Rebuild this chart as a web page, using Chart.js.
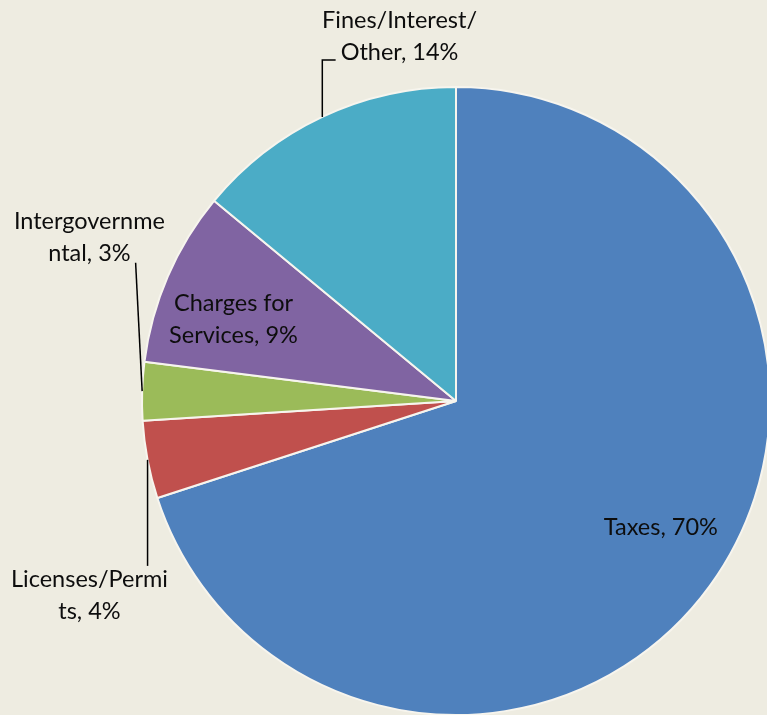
<!DOCTYPE html>
<html>
<head>
<meta charset="utf-8">
<script src="https://cdn.jsdelivr.net/npm/chart.js@4"></script>
<style>
  html, body { margin: 0; padding: 0; background: #EEECE1; overflow: hidden; }
  #wrap { width: 767px; height: 715px; }
</style>
</head>
<body>
<div id="wrap"><canvas id="chart" width="767" height="715"></canvas></div>
<script>
'use strict';

// data
const categories = ['Taxes', 'Licenses/Permits', 'Intergovernmental', 'Charges for Services', 'Fines/Interest/Other'];
const shares = [70, 4, 3, 9, 14];
// how the labels wrap in the original
const labelLines = [
    ['Taxes, 70%'],
    ['Licenses/Permi', 'ts, 4%'],
    ['Intergovernme', 'ntal, 3%'],
    ['Charges for', 'Services, 9%'],
    ['Fines/Interest/', 'Other, 14%']
];

const colors = ['#4F81BD', '#C0504D', '#9BBB59', '#8064A2', '#4BACC6'];

// label placement in polar terms (angle in degrees, distance as fraction of radius)
const labelPlace = [
    { angle: 31.6, dist: 0.766, leader: null },
    { angle: 152.0, dist: 1.322, leader: 'down' },
    { angle: 204.0, dist: 1.278, leader: 'up' },
    { angle: 200.2, dist: 0.755, leader: null },
    { angle: 261.2, dist: 1.176, leader: 'elbow' }
];

const FONT = '23.5px Lato, "Open Sans", sans-serif';
const LINE_H = 32;

const pieLabels = {
    id: 'pieLabels',
    afterDatasetsDraw(chart) {
        const ctx = chart.ctx;
        const meta = chart.getDatasetMeta(0);
        ctx.save();
        ctx.font = FONT;
        ctx.fillStyle = '#0D0D0D';
        ctx.strokeStyle = '#000';
        ctx.lineWidth = 1.5;
        ctx.textAlign = 'center';
        ctx.textBaseline = 'middle';
        meta.data.forEach((arc, i) => {
            const p = arc.getProps(['x', 'y', 'startAngle', 'endAngle', 'outerRadius'], true);
            const place = labelPlace[i];
            const a = place.angle * Math.PI / 180;
            const cx = p.x + Math.cos(a) * p.outerRadius * place.dist;
            const cy = p.y + Math.sin(a) * p.outerRadius * place.dist;
            const lines = labelLines[i];
            const top = cy - LINE_H * lines.length / 2;
            lines.forEach((t, k) => ctx.fillText(t, cx, top + LINE_H * (k + 0.5)));

            if (place.leader) {
                const mid = (p.startAngle + p.endAngle) / 2;
                const sx = p.x + Math.cos(mid) * p.outerRadius;
                const sy = p.y + Math.sin(mid) * p.outerRadius;
                const lastW = ctx.measureText(lines[lines.length - 1]).width;
                ctx.beginPath();
                ctx.moveTo(sx, sy);
                if (place.leader === 'elbow') {
                    const ly = top + LINE_H * (lines.length - 0.5);
                    ctx.lineTo(sx, ly + 8);
                    ctx.lineTo(cx - lastW / 2 - 5, ly + 8);
                } else if (place.leader === 'up') {
                    ctx.lineTo(cx + lastW / 2 + 5, top + LINE_H * lines.length - 7);
                } else {
                    ctx.lineTo(sx, top + 2);
                }
                ctx.stroke();
            }
        });
        ctx.restore();
    }
};

new Chart(document.getElementById('chart'), {
    type: 'pie',
    data: {
        labels: categories,
        datasets: [{
            data: shares,
            backgroundColor: colors,
            borderColor: '#F7F5EE',
            borderWidth: 2,
            radius: 314
        }]
    },
    options: {
        responsive: false,
        animation: false,
        layout: { padding: { left: 145, right: 0, top: 87, bottom: 0 } },
        plugins: {
            legend: { display: false },
            tooltip: { enabled: false }
        }
    },
    plugins: [pieLabels]
});
</script>
</body>
</html>
